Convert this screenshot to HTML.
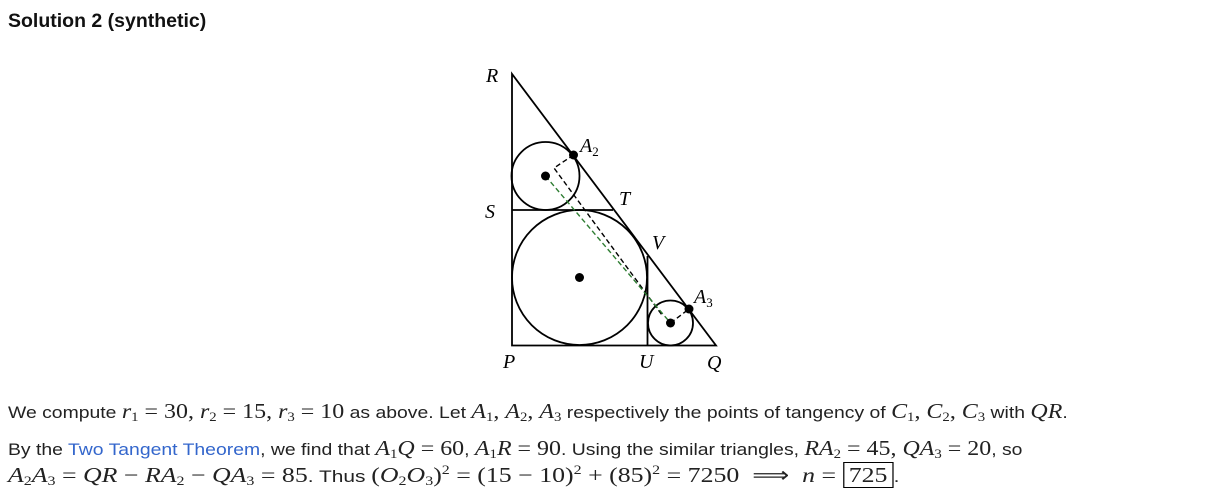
<!DOCTYPE html>
<html><head><meta charset="utf-8"><style>
html,body{margin:0;padding:0;background:#fff;width:1215px;height:500px;overflow:hidden;position:relative}
body{font-family:"Liberation Sans",sans-serif;color:#222;font-size:17px}
.t{position:absolute;white-space:nowrap;transform-origin:0 50%}
.m{font-family:"Liberation Serif",serif;font-size:21px}
.i{font-style:italic}
sub{font-size:13px;vertical-align:-3px;line-height:0}
sup{font-size:13px;vertical-align:8px;line-height:0}
a{color:#3366cc;text-decoration:none}
.box{border:1px solid #000;padding:0 4px}
</style></head><body>
<div class="t" style="left:8px;top:10px;font-weight:bold;font-size:19.5px;color:#111">Solution 2 (synthetic)</div>
<svg style="position:absolute;left:0;top:0" width="1215" height="390">
<g fill="none" stroke="#000" stroke-width="1.8">
<polygon points="512,74 512,345.5 716,345.5"/>
<line x1="512" y1="210" x2="613" y2="210"/>
<line x1="647.5" y1="256" x2="647.5" y2="345.5"/>
<circle cx="579.5" cy="277.5" r="67.5"/>
<circle cx="545.5" cy="176" r="34"/>
<circle cx="670.5" cy="323" r="22.5"/>
</g>
<g stroke-width="1.4" fill="none" stroke-dasharray="5,3">
<polyline stroke="#000" points="573.5,155 554,168 662,315"/>
<line stroke="#000" x1="670.5" y1="323" x2="689" y2="309"/>
<line stroke="#2e7d32" x1="545.5" y1="176" x2="670.5" y2="323"/>
</g>
<g fill="#000">
<circle cx="573.5" cy="155" r="4.5"/>
<circle cx="545.5" cy="176" r="4.5"/>
<circle cx="579.5" cy="277.5" r="4.5"/>
<circle cx="670.5" cy="323" r="4.5"/>
<circle cx="689" cy="309" r="4.5"/>
</g>
<g font-family="Liberation Serif,serif" font-style="italic" font-size="20" fill="#000">
<text x="486" y="82">R</text>
<text x="580" y="152">A<tspan font-size="13" font-style="normal" dy="4">2</tspan></text>
<text x="619" y="205">T</text>
<text x="485" y="218">S</text>
<text x="652" y="249">V</text>
<text x="694" y="303">A<tspan font-size="13" font-style="normal" dy="4">3</tspan></text>
<text x="503" y="368">P</text>
<text x="639" y="368">U</text>
<text x="707" y="369">Q</text>
</g>
</svg>
<div class="t" style="left:8px;top:399px;transform:scaleX(1.14)">We compute <span class="m"><span class="i">r</span><sub>1</sub> = 30, <span class="i">r</span><sub>2</sub> = 15, <span class="i">r</span><sub>3</sub> = 10</span> as above. Let <span class="m"><span class="i">A</span><sub>1</sub>, <span class="i">A</span><sub>2</sub>, <span class="i">A</span><sub>3</sub></span> respectively the points of tangency of <span class="m"><span class="i">C</span><sub>1</sub>, <span class="i">C</span><sub>2</sub>, <span class="i">C</span><sub>3</sub></span> with <span class="m i">QR</span>.</div>
<div class="t" style="left:8px;top:436px;transform:scaleX(1.14)">By the <a>Two Tangent Theorem</a>, we find that <span class="m"><span class="i">A</span><sub>1</sub><span class="i">Q</span> = 60</span>, <span class="m"><span class="i">A</span><sub>1</sub><span class="i">R</span> = 90</span>. Using the similar triangles, <span class="m"><span class="i">RA</span><sub>2</sub> = 45, <span class="i">QA</span><sub>3</sub> = 20</span>, so</div>
<div class="t" style="left:8px;top:463px;transform:scaleX(1.23)"><span class="m"><span class="i">A</span><sub>2</sub><span class="i">A</span><sub>3</sub> = <span class="i">QR</span> − <span class="i">RA</span><sub>2</sub> − <span class="i">QA</span><sub>3</sub> = 85</span>. Thus <span class="m">(<span class="i">O</span><sub>2</sub><span class="i">O</span><sub>3</sub>)<sup>2</sup> = (15 − 10)<sup>2</sup> + (85)<sup>2</sup> = 7250 &nbsp;⟹&nbsp; <span class="i">n</span> = <span class="box">725</span></span>.</div>
</body></html>
